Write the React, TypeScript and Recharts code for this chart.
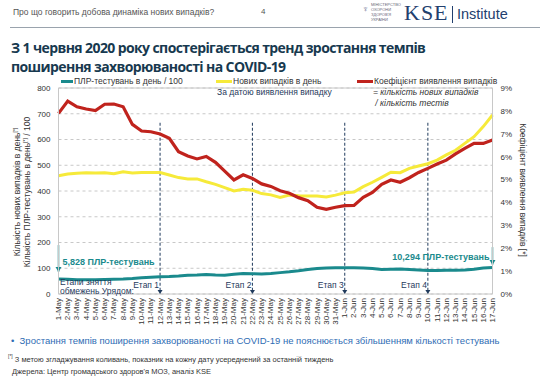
import { ComposedChart, Line, XAxis, YAxis, CartesianGrid, ReferenceLine } from "recharts";

const dates = [
  "1-May", "2-May", "3-May", "4-May", "5-May", "6-May", "7-May", "8-May", "9-May", "10-May",
  "11-May", "12-May", "13-May", "14-May", "15-May", "16-May", "17-May", "18-May", "19-May", "20-May",
  "21-May", "22-May", "23-May", "24-May", "25-May", "26-May", "27-May", "28-May", "29-May", "30-May",
  "31-May", "1-Jun", "2-Jun", "3-Jun", "4-Jun", "5-Jun", "6-Jun", "7-Jun", "8-Jun", "9-Jun",
  "10-Jun", "11-Jun", "12-Jun", "13-Jun", "14-Jun", "15-Jun", "16-Jun", "17-Jun",
];

// ПЛР-тестувань в день / 100
const testsPer100 = [
  58, 57, 55, 55, 55, 56, 57, 58, 60, 63,
  65, 67, 68, 70, 73, 74, 76, 74, 73, 77,
  80, 79, 78, 80, 83, 86, 90, 95, 99, 101,
  102, 102, 102, 101, 99, 95, 96, 97, 95, 93,
  91, 91, 92, 92, 93, 96, 101, 103,
];

// Нових випадків в день
const newCases = [
  459, 466, 469, 471, 470, 471, 467, 475, 470, 472,
  472, 472, 462, 452, 447, 447, 436, 426, 413, 400,
  407, 403, 390, 385, 375, 384, 382, 381, 381, 377,
  384, 393, 396, 417, 434, 453, 473, 471, 488, 497,
  506, 520, 540, 558, 585, 611, 650, 695,
];

// Коефіцієнт виявлення випадків, %
const detectionRate = [
  7.89, 8.43, 8.18, 8.08, 8.01, 8.29, 8.30, 8.18, 7.41, 7.12,
  7.09, 6.99, 6.80, 6.22, 6.03, 5.90, 6.01, 5.75, 5.37, 4.98,
  5.21, 5.05, 4.81, 4.70, 4.51, 4.40, 4.21, 4.08, 3.79, 3.70,
  3.79, 3.86, 3.87, 4.22, 4.44, 4.79, 4.98, 4.88, 5.08, 5.31,
  5.49, 5.68, 5.85, 6.12, 6.36, 6.58, 6.58, 6.73,
];

const leftTicks = [0, 100, 200, 300, 400, 500, 600, 700, 800];
const rightTicks = [0, 1, 2, 3, 4, 5, 6, 7, 8, 9];

const stages = [
  { date: "12-May", label: "Етап 1" },
  { date: "22-May", label: "Етап 2" },
  { date: "1-Jun", label: "Етап 3" },
  { date: "10-Jun", label: "Етап 4" },
];

const data = dates.map((date, i) => ({
  date,
  tests: testsPer100[i],
  cases: newCases[i],
  rate: detectionRate[i],
}));

const TEAL = "#1a8a8d";
const YELLOW = "#f6ea3a";
const RED = "#c0231d";
const NAVY = "#1f3a5c";
const FONT = "'Liberation Sans', Arial, sans-serif";

const DateTick = ({ x, y, payload }: any) => (
  <text
    x={x}
    y={y}
    transform={`rotate(-90 ${x} ${y})`}
    textAnchor="end"
    dominantBaseline="central"
    fontSize={8}
    fill="#333"
    fontFamily={FONT}
  >
    {payload.value}
  </text>
);

const StageLabel = ({ viewBox, text }: any) => {
  const x = viewBox.x;
  const bottom = viewBox.y + viewBox.height;
  return (
    <g>
      <path d={`M${x - 2.5},${bottom - 4} L${x + 2.5},${bottom - 4} L${x},${bottom} Z`} fill={NAVY} />
      <text x={x - 1} y={bottom - 6} textAnchor="end" fontSize={8.5} fill={NAVY} fontFamily={FONT}>
        {text}
      </text>
    </g>
  );
};

const TestsArrow = ({ viewBox, text, side }: any) => {
  const x = viewBox.x;
  const bottom = viewBox.y + viewBox.height;
  return (
    <g>
      <path d={`M${x - 3},${bottom - 5} L${x + 3},${bottom - 5} L${x},${bottom} Z`} fill={TEAL} />
      <text
        x={side === "right" ? x + 4 : x - 3}
        y={side === "right" ? bottom - 7 : bottom - 5}
        textAnchor={side === "right" ? "start" : "end"}
        fontSize={9}
        fontWeight="bold"
        fill={TEAL}
        fontFamily={FONT}
      >
        {text}
      </text>
    </g>
  );
};

const legendItem = (color: string, text: string, left: number, swatch: number) => (
  <div style={{ position: "absolute", left, top: 76, height: 10, lineHeight: "10px", display: "flex", alignItems: "center", fontSize: 8.5, color: "#333", whiteSpace: "nowrap" }}>
    <span style={{ display: "inline-block", width: swatch, height: 3, background: color, marginRight: 1 }} />
    {text}
  </div>
);

const titleStyle = {
  position: "absolute" as const,
  left: 11,
  fontSize: 14,
  lineHeight: "19px",
  fontWeight: "bold" as const,
  color: "#17394f",
  fontFamily: "'Open Sans', sans-serif",
  letterSpacing: -0.6,
  whiteSpace: "nowrap" as const,
};

export default function App() {
  return (
    <div style={{ position: "absolute", left: 0, top: 0, width: 549, height: 380, background: "#fff", overflow: "hidden", fontFamily: FONT }}>
      {/* header */}
      <div style={{ position: "absolute", left: 13, top: 7, fontSize: 8.5, color: "#555" }}>
        Про що говорить добова динаміка нових випадків?
      </div>
      <div style={{ position: "absolute", left: 261, top: 7, fontSize: 8, color: "#555" }}>4</div>
      <div style={{ position: "absolute", left: 362, top: 4, fontSize: 9, color: "#5a6a88" }}>♆</div>
      <div style={{ position: "absolute", left: 371, top: 2, fontSize: 4, lineHeight: "5px", color: "#667" }}>
        МІНІСТЕРСТВО<br />ОХОРОНИ<br />ЗДОРОВ'Я<br />УКРАЇНИ
      </div>
      <div style={{ position: "absolute", left: 404, top: 0, fontSize: 22, fontFamily: "'Liberation Serif', serif", color: "#22406e", letterSpacing: 1 }}>
        KSE
      </div>
      <div style={{ position: "absolute", left: 452, top: 6, width: 1, height: 17, background: "#22406e" }} />
      <div style={{ position: "absolute", left: 457, top: 6, fontSize: 14.5, color: "#22406e" }}>Institute</div>
      <div style={{ position: "absolute", left: 10, top: 27, width: 530, height: 1, background: "#9aa3ad" }} />

      {/* title */}
      <div style={{ ...titleStyle, top: 38 }}>З 1 червня 2020 року спостерігається тренд зростання темпів</div>
      <div style={{ ...titleStyle, top: 57 }}>поширення захворюваності на COVID-19</div>

      <ComposedChart
        width={549}
        height={380}
        data={data}
        margin={{ top: 88, right: 16.5, bottom: 46, left: 18.5 }}
        style={{ position: "absolute", left: 0, top: 0 }}
      >
        <CartesianGrid yAxisId="left" vertical={false} stroke="#c8c8c8" strokeDasharray="3 3" />
        <XAxis
          dataKey="date"
          interval={0}
          tick={<DateTick />}
          tickLine={false}
          tickSize={0}
          tickMargin={4}
          height={40}
          axisLine={{ stroke: "#c8c8c8" }}
        />
        <YAxis
          yAxisId="left"
          domain={[0, 800]}
          ticks={leftTicks}
          width={40}
          tickLine={false}
          tickSize={0}
          tickMargin={8}
          axisLine={{ stroke: "#c8c8c8" }}
          tick={{ fontSize: 8, fill: "#333", fontFamily: FONT }}
        />
        <YAxis
          yAxisId="right"
          orientation="right"
          domain={[0, 9]}
          ticks={rightTicks}
          width={40}
          tickLine={false}
          tickSize={0}
          tickMargin={8}
          axisLine={{ stroke: "#c8c8c8" }}
          tickFormatter={(v: number) => `${v}%`}
          tick={{ fontSize: 8, fill: "#333", fontFamily: FONT }}
        />
        <ReferenceLine yAxisId="left" y={800} stroke="#c8c8c8" />
        {stages.map((s) => (
          <ReferenceLine
            key={s.date}
            yAxisId="left"
            segment={[{ x: s.date, y: 665 }, { x: s.date, y: 0 }]}
            stroke={NAVY}
            strokeDasharray="3 2"
            strokeWidth={1}
            label={<StageLabel text={s.label} />}
          />
        ))}
        <Line yAxisId="left" dataKey="tests" stroke={TEAL} strokeWidth={3} dot={false} isAnimationActive={false} />
        <Line yAxisId="left" dataKey="cases" stroke={YELLOW} strokeWidth={3} dot={false} isAnimationActive={false} />
        <Line yAxisId="right" dataKey="rate" stroke={RED} strokeWidth={3.2} dot={false} isAnimationActive={false} />
        <ReferenceLine
          yAxisId="left"
          segment={[{ x: dates[0], y: 190 }, { x: dates[0], y: 85 }]}
          stroke={TEAL}
          strokeWidth={1.5}
          label={<TestsArrow text="5,828 ПЛР-тестувань" side="right" />}
        />
        <ReferenceLine
          yAxisId="left"
          segment={[{ x: dates[dates.length - 1], y: 182 }, { x: dates[dates.length - 1], y: 113 }]}
          stroke={TEAL}
          strokeWidth={1.5}
          label={<TestsArrow text="10,294 ПЛР-тестувань" side="left" />}
        />
      </ComposedChart>

      {/* legend */}
      {legendItem(TEAL, "ПЛР-тестувань в день / 100", 61, 12)}
      {legendItem(YELLOW, "Нових випадків в день", 216, 16)}
      {legendItem(RED, "Коефіцієнт виявлення випадків", 357, 16)}
      <div style={{ position: "absolute", left: 217, top: 87, fontSize: 8.5, color: NAVY }}>За датою виявлення випадку</div>
      <div style={{ position: "absolute", left: 373, top: 87, fontSize: 8.5, fontStyle: "italic", color: "#333", lineHeight: "11px" }}>
        = кількість нових випадків
        <br />
        &nbsp;/ кількість тестів
      </div>

      {/* stage caption */}
      <div style={{ position: "absolute", left: 60, top: 278, fontSize: 8.5, lineHeight: "9px", color: NAVY }}>
        Етапи зняття
        <br />
        обмежень Урядом:
      </div>

      {/* axis titles */}
      <div style={{ position: "absolute", left: 17, top: 192, transform: "translate(-50%, -50%) rotate(-90deg)", fontSize: 8.5, color: "#333", whiteSpace: "nowrap" }}>
        Кількість нових випадків в день<sup style={{ fontSize: 5 }}>[*]</sup>
      </div>
      <div style={{ position: "absolute", left: 27, top: 192, transform: "translate(-50%, -50%) rotate(-90deg)", fontSize: 8.5, color: "#333", whiteSpace: "nowrap" }}>
        Кількість ПЛР-тестувань в день<sup style={{ fontSize: 5 }}>[*]</sup> / 100
      </div>
      <div style={{ position: "absolute", left: 523, top: 190, transform: "translate(-50%, -50%) rotate(90deg)", fontSize: 8.5, color: "#333", whiteSpace: "nowrap" }}>
        Коефіцієнт виявлення випадків [*]
      </div>

      {/* bottom notes */}
      <div style={{ position: "absolute", left: 11, top: 335, fontSize: 9.5, color: "#2f6db4", whiteSpace: "nowrap" }}>
        •&nbsp; Зростання темпів поширення захворюваності на COVID-19 не пояснюється збільшенням кількості тестувань
      </div>
      <div style={{ position: "absolute", left: 8, top: 353, fontSize: 7.5, color: "#333", whiteSpace: "nowrap" }}>
        <sup style={{ fontSize: 5 }}>[*]</sup> З метою згладжування коливань, показник на кожну дату усереднений за останній тиждень
      </div>
      <div style={{ position: "absolute", left: 12, top: 367, fontSize: 7.5, color: "#333", whiteSpace: "nowrap" }}>
        Джерела: Центр громадського здоров'я МОЗ, аналіз KSE
      </div>
    </div>
  );
}
